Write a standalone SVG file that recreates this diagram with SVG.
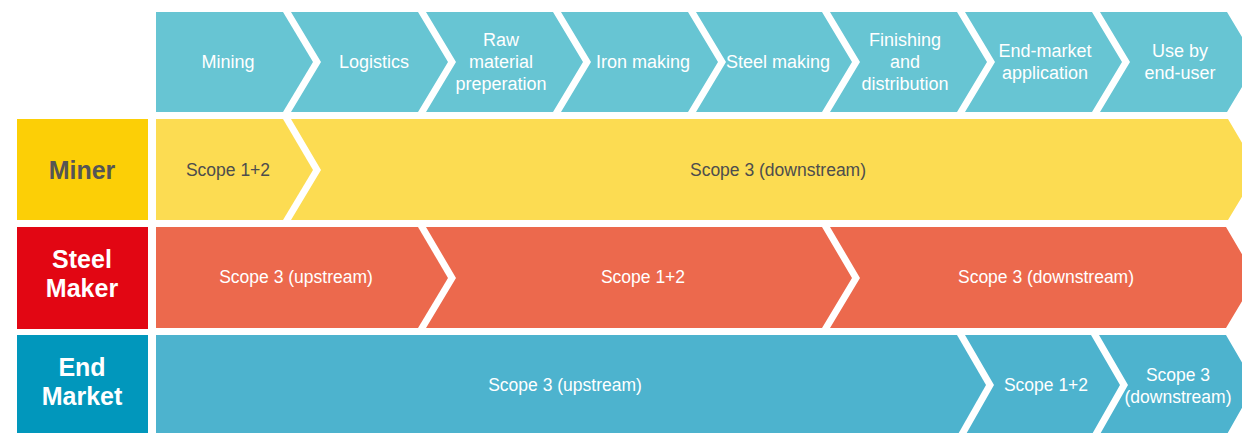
<svg xmlns="http://www.w3.org/2000/svg" width="1242" height="433" viewBox="0 0 1242 433">
<style>
.hdr{fill:#67C5D3}
.yel{fill:#FCDC52}
.org{fill:#EC694D}
.blu{fill:#4DB3CE}
.t{font-family:"Liberation Sans","Noto Sans",sans-serif;font-size:18px;fill:#FFFFFF;text-anchor:middle;dominant-baseline:central}
.s{font-family:"Liberation Sans","Noto Sans",sans-serif;font-size:17.5px;fill:#FFFFFF;text-anchor:middle;dominant-baseline:central}
.dk{fill:#4D4D4D}
.lbl{font-family:"Liberation Sans","Noto Sans",sans-serif;font-size:25px;font-weight:bold;fill:#FFFFFF;text-anchor:middle;dominant-baseline:central}
</style>
<rect width="1242" height="433" fill="#FFFFFF"/>
<g id="header">
<g id="h-mining"><path class="hdr" d="M156,12 L283,12 L313,62 L283,112 L156,112 Z"/><text class="t" x="228" y="62">Mining</text></g>
<g id="h-logistics"><path class="hdr" d="M291,12 L418,12 L448,62 L418,112 L291,112 L321,62 Z"/><text class="t" x="374" y="62">Logistics</text></g>
<g id="h-raw"><path class="hdr" d="M426,12 L553,12 L583,62 L553,112 L426,112 L456,62 Z"/><text class="t" x="501" y="40">Raw</text><text class="t" x="501" y="62">material</text><text class="t" x="501" y="84">preperation</text></g>
<g id="h-iron"><path class="hdr" d="M561,12 L688,12 L718,62 L688,112 L561,112 L591,62 Z"/><text class="t" x="643" y="62">Iron making</text></g>
<g id="h-steel"><path class="hdr" d="M696,12 L822,12 L852,62 L822,112 L696,112 L726,62 Z"/><text class="t" x="778" y="62">Steel making</text></g>
<g id="h-finishing"><path class="hdr" d="M830,12 L957,12 L987,62 L957,112 L830,112 L860,62 Z"/><text class="t" x="905" y="40">Finishing</text><text class="t" x="905" y="62">and</text><text class="t" x="905" y="84">distribution</text></g>
<g id="h-endmarket"><path class="hdr" d="M965,12 L1092,12 L1122,62 L1092,112 L965,112 L995,62 Z"/><text class="t" x="1045" y="51">End-market</text><text class="t" x="1045" y="73">application</text></g>
<g id="h-use"><path class="hdr" d="M1100,12 L1227,12 L1257,62 L1227,112 L1100,112 L1130,62 Z"/><text class="t" x="1180" y="51">Use by</text><text class="t" x="1180" y="73">end-user</text></g>
</g>
<g id="miner">
<g id="miner-label"><rect x="17" y="119" width="131" height="101" fill="#FCCF06"/><text class="lbl" x="82" y="170" style="fill:#555555">Miner</text></g>
<g id="miner-s12"><path class="yel" d="M156,119 L283,119 L313,170 L283,220 L156,220 Z"/><text class="s dk" x="228" y="170">Scope 1+2</text></g>
<g id="miner-s3"><path class="yel" d="M291,119 L1228,119 L1258,170 L1228,220 L291,220 L321,170 Z"/><text class="s dk" x="778" y="170">Scope 3 (downstream)</text></g>
</g>
<g id="steelmaker">
<g id="steel-label"><rect x="17" y="227" width="131" height="102" fill="#E20613"/><text class="lbl" x="82" y="259">Steel</text><text class="lbl" x="82" y="288">Maker</text></g>
<g id="steel-s3up"><path class="org" d="M156,227 L418,227 L448,278 L418,328 L156,328 Z"/><text class="s" x="296" y="277">Scope 3 (upstream)</text></g>
<g id="steel-s12"><path class="org" d="M426,227 L822,227 L852,278 L822,328 L426,328 L456,278 Z"/><text class="s" x="643" y="277">Scope 1+2</text></g>
<g id="steel-s3down"><path class="org" d="M830,227 L1226,227 L1256,278 L1226,328 L830,328 L860,278 Z"/><text class="s" x="1046" y="277">Scope 3 (downstream)</text></g>
</g>
<g id="endmarket">
<g id="end-label"><rect x="17" y="335" width="131" height="101" fill="#0197BC"/><text class="lbl" x="82" y="367">End</text><text class="lbl" x="82" y="396">Market</text></g>
<g id="end-s3up"><path class="blu" d="M156,335 L957,335 L986,385 L957,436 L156,436 Z"/><text class="s" x="565" y="385">Scope 3 (upstream)</text></g>
<g id="end-s12"><path class="blu" d="M965,335 L1091,335 L1120,385 L1091,436 L965,436 L994,385 Z"/><text class="s" x="1046" y="385">Scope 1+2</text></g>
<g id="end-s3down"><path class="blu" d="M1099,335 L1226,335 L1255,385 L1226,436 L1099,436 L1128,385 Z"/><text class="s" x="1178" y="375">Scope 3</text><text class="s" x="1178" y="397">(downstream)</text></g>
</g>
<g id="connectors"></g>
</svg>
